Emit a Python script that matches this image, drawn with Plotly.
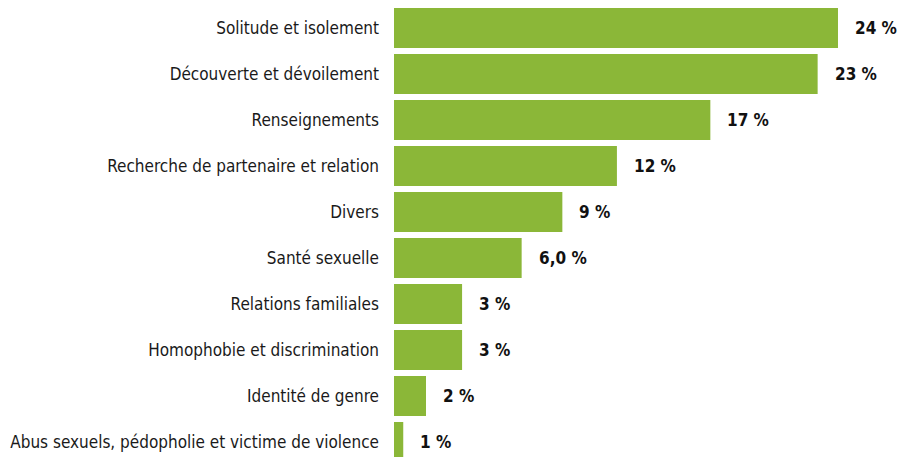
import plotly.graph_objects as go

categories = [
    "Solitude et isolement",
    "Découverte et dévoilement",
    "Renseignements",
    "Recherche de partenaire et relation",
    "Divers",
    "Santé sexuelle",
    "Relations familiales",
    "Homophobie et discrimination",
    "Identité de genre",
    "Abus sexuels, pédopholie et victime de violence",
]
values = [24.0, 22.9, 17.1, 12.05, 9.1, 6.9, 3.68, 3.68, 1.73, 0.5]
labels = ["24 %", "23 %", "17 %", "12 %", "9 %", "6,0 %", "3 %", "3 %", "2 %", "1 %"]

FONT = "DejaVu Sans Condensed, sans-serif"
GREEN = "#8bb738"

fig = go.Figure(
    go.Bar(
        x=values,
        y=categories,
        orientation="h",
        marker=dict(color=GREEN, line=dict(width=0)),
        width=0.87,
        hoverinfo="skip",
    )
)

for c, v, t in zip(categories, values, labels):
    fig.add_annotation(
        x=v, y=c, text="<b>%s</b>" % t, showarrow=False,
        xanchor="left", xshift=15, font=dict(family=FONT, size=17, color="#111111"),
    )

fig.update_layout(
    width=902,
    height=457,
    margin=dict(l=394, r=0, t=5, b=0),
    paper_bgcolor="white",
    plot_bgcolor="white",
    showlegend=False,
    xaxis=dict(range=[0, 27.46], visible=False, fixedrange=True, automargin=False),
    yaxis=dict(
        categoryorder="array",
        categoryarray=categories,
        range=[9.326, -0.5],
        showgrid=False,
        zeroline=False,
        showline=False,
        ticks="",
        ticklabelstandoff=14,
        automargin=False,
        tickfont=dict(family=FONT, size=17, color="#1a1a1a"),
        fixedrange=True,
    ),
)

fig.write_html("out.html", config={"displayModeBar": False})

with open("out.html", encoding="utf-8") as f:
    html = f.read()
html = html.replace("<head>", "<head><style>html,body{margin:0;padding:0;overflow:hidden}</style>", 1)
with open("out.html", "w", encoding="utf-8") as f:
    f.write(html)
